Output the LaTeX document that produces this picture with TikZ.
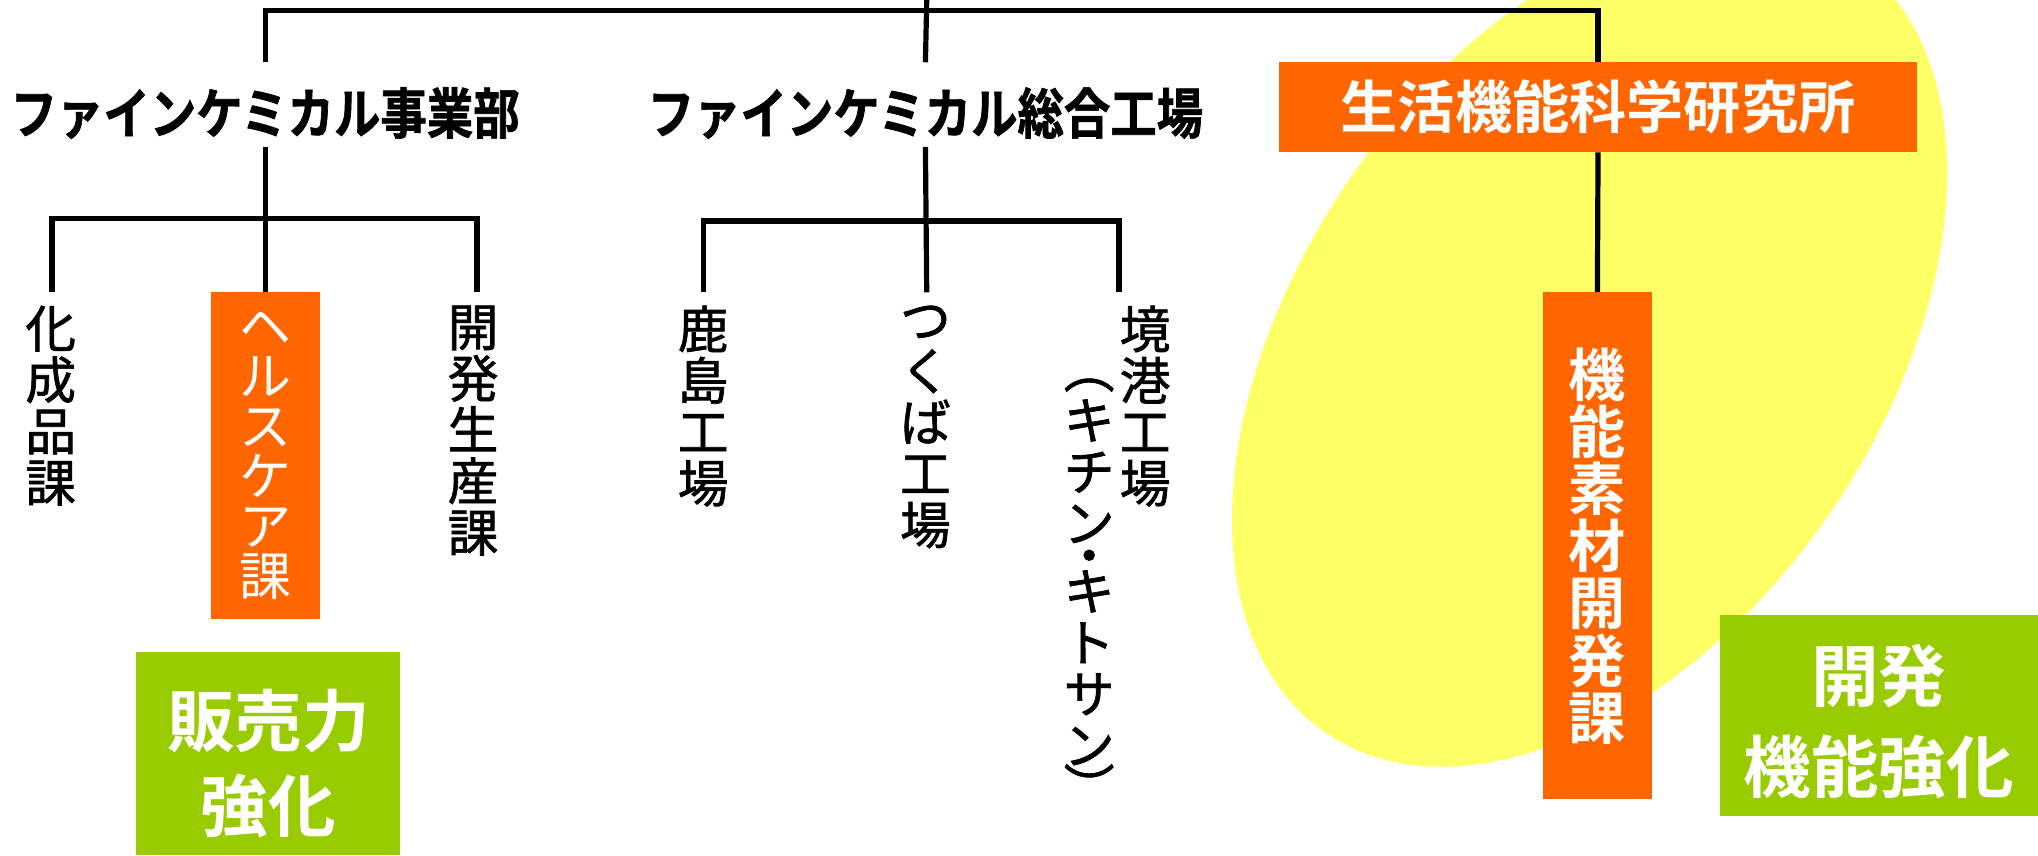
\documentclass[tikz,border=0pt]{standalone}
\usepackage{fontspec}
\setmainfont{Noto Sans CJK JP}
\newfontfamily\jpreg{Noto Sans CJK JP}
\newfontfamily\jpmed{Noto Sans CJK JP}[FakeBold=1.3]
\newfontfamily\jpbold{Noto Sans CJK JP Bold}
\newfontfamily\jphead{Noto Sans CJK JP Bold}[FakeStretch=0.85, FakeBold=1.2]
\definecolor{orng}{HTML}{FF6600}
\definecolor{grn}{HTML}{99CC00}
\definecolor{ylw}{HTML}{FFFF66}
\begin{document}
\begin{tikzpicture}[x=1pt,y=-1pt,
  conn/.style={line width=4pt, black},
  head/.style={inner xsep=0pt, inner ysep=19pt, font=\jphead\fontsize{42}{42}\selectfont},
  vlabel/.style={align=center, inner xsep=0pt, inner ysep=10pt, anchor=north, font=\jpmed\fontsize{39}{39.5}\selectfont},
  obox/.style={fill=orng, inner sep=0pt, text=white, align=center},
  gbox/.style={fill=grn, inner sep=0pt},
  gtext/.style={text=white, align=center, inner sep=0pt, font=\jpbold\fontsize{52}{#1}\selectfont}
]
\useasboundingbox (0,0) rectangle (1568,658);
% yellow ellipse
\fill[ylw, rotate around={55.7:(1223,266.5)}] (1223,266.5) ellipse [x radius=360pt, y radius=225pt];

% nodes
\node[head] (h1) at (204,87) {ファインケミカル事業部};
\node[head] (h2) at (712,87) {ファインケミカル総合工場};
\node[obox, minimum width=491pt, minimum height=69pt, font=\jpbold\fontsize{44}{44}\selectfont] (lab) at (1229.5,82.5) {生活機能科学研究所};
\node[obox, minimum width=84pt, minimum height=251pt, font=\jpreg\fontsize{40}{38.4}\selectfont] (hc) at (204,350.5) {ヘ\\ル\\ス\\ケ\\ア\\課};
\node[obox, minimum width=84pt, minimum height=390pt, font=\jpbold\fontsize{44}{44}\selectfont] (kino) at (1229,420) {機\\能\\素\\材\\開\\発\\課};

\node[vlabel] (kasei) at (39,225) {化\\成\\品\\課};
\node[vlabel] (kaihatsu) at (364,225) {開\\発\\生\\産\\課};
\node[vlabel] (kashima) at (541,225) {鹿\\島\\工\\場};
\node[vlabel] (tsukuba) at (712,225) {つ\\く\\ば\\工\\場};
\node[vlabel] (sakai) at (881,225) {境\\港\\工\\場};
\node[vlabel, inner ysep=0pt] (kitin) at (838,264) {\rule{0pt}{34.3pt}︵\\キ\\チ\\ン\\[-14.5pt]・\\[-12pt]キ\\ト\\サ\\ン\\[-7pt]︶};

\node[gbox, minimum width=203pt, minimum height=156pt] (salesbox) at (206.5,580) {};
\node[gtext=65pt] (sales) at (206.5,587.5) {販売力\\強化};
\node[gbox, minimum width=245pt, minimum height=155pt] (devbox) at (1445.5,550.5) {};
\node[gtext=70pt] (dev) at (1445.5,555) {開発\\機能強化};

% connectors
\coordinate (topend) at (713,0);
\coordinate (bar) at (713,8);
\coordinate (b1) at (205,168);
\coordinate (b2) at (713,170);
\draw[conn] (topend) -- (h2.north);
\draw[conn] (h1.north) |- (bar) -| (lab.north);
\draw[conn] ([yshift=13pt]h1.south) -- (hc.north);
\draw[conn] ([xshift=1pt]kasei.north) |- (b1) -| ([xshift=3pt]kaihatsu.north);
\draw[conn] ([yshift=13pt]h2.south) -- ([xshift=1pt]tsukuba.north);
\draw[conn] (kashima.north) |- (b2) -| ([xshift=-20pt]sakai.north);
\draw[conn] (lab.south) -- (kino.north);
\end{tikzpicture}
\end{document}
